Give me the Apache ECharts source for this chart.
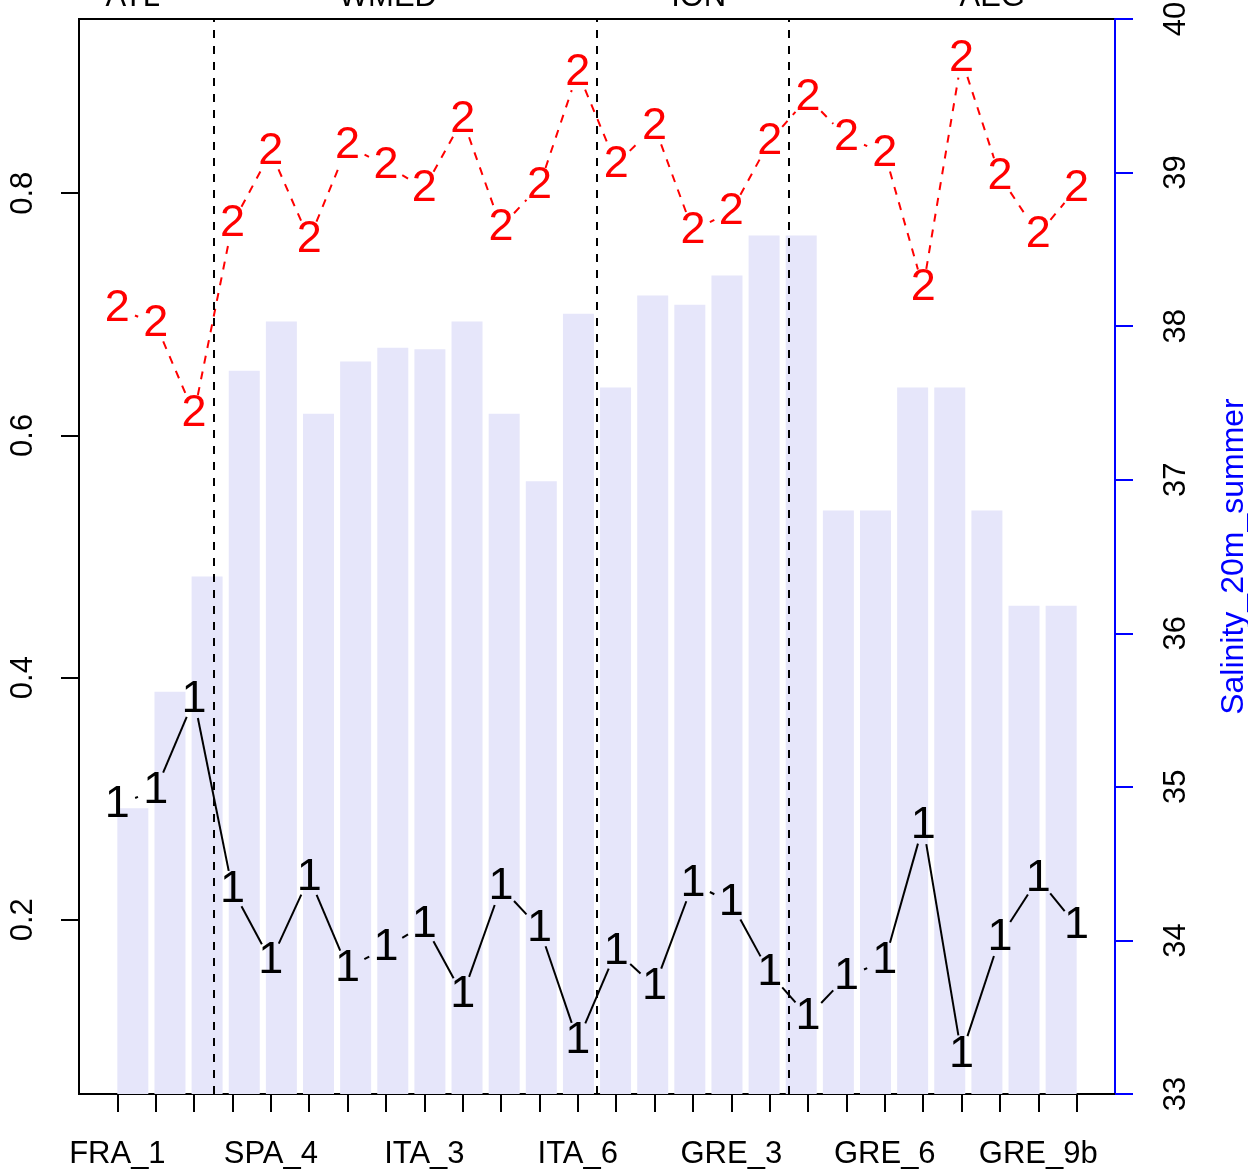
<!DOCTYPE html>
<html>
<head>
<meta charset="utf-8">
<script src="https://cdn.jsdelivr.net/npm/echarts@6/dist/echarts.min.js"></script>
<style>
  html, body { margin: 0; padding: 0; background: #fff; }
  #chart { width: 1248px; height: 1169px; }
</style>
</head>
<body>
<div id="chart"></div>
<script>
// x tick labels (only every 4th station has room for a label)
const tickLabels = ['FRA_1', 'SPA_4', 'ITA_3', 'ITA_6', 'GRE_3', 'GRE_6', 'GRE_9b']
const regions = ['ATL', 'WMED', 'ION', 'AEG']
const regionAt = [1.4, 8.05, 16.15, 23.8]
const regionBreaks = [3.5, 13.5, 18.5]

// group proportions per station (left axis)
const group1 = [0.295, 0.307, 0.382, 0.225, 0.166, 0.235, 0.160, 0.177, 0.196, 0.138,
  0.227, 0.193, 0.100, 0.174, 0.145, 0.230, 0.214, 0.156, 0.120, 0.153,
  0.166, 0.278, 0.089, 0.185, 0.234, 0.195]
const group2 = [0.705, 0.692, 0.618, 0.775, 0.834, 0.762, 0.839, 0.823, 0.804, 0.861,
  0.772, 0.806, 0.900, 0.824, 0.855, 0.769, 0.785, 0.843, 0.879, 0.846,
  0.833, 0.722, 0.911, 0.814, 0.766, 0.804]

// Salinity_20m_summer per station (right axis)
const salinity = [34.86, 35.62, 36.37, 37.71, 38.03, 37.43, 37.77, 37.86, 37.85, 38.03,
  37.43, 36.99, 38.08, 37.60, 38.20, 38.14, 38.33, 38.59, 38.59, 36.80,
  36.80, 37.60, 37.60, 36.80, 36.18, 36.18]

const FONT = '"Liberation Sans", Arial, Helvetica, sans-serif'
const GAP = 19

const n = group1.length
// R style axis ranges: data range stretched by 4% on each side
const all = group1.concat(group2)
const lo = Math.min(...all)
const hi = Math.max(...all)
const yMin = lo - 0.04 * (hi - lo)
const yMax = hi + 0.04 * (hi - lo)
const xMin = 1 - 0.04 * (n - 1)
const xMax = n + 0.04 * (n - 1)
// barplot positions: width 1, space 0.2
const barLeft = 0.2
const barRight = 1.2 * n
const bxMin = barLeft - 0.04 * (barRight - barLeft)
const bxMax = barRight + 0.04 * (barRight - barLeft)

const stationTicks = Array.from({ length: n }, (_, i) => i + 1)
const labelTicks = tickLabels.map((_, k) => 1 + 4 * k)

const segmentSeries = (values, color, dash) => ({
  type: 'custom',
  xAxisIndex: 0,
  yAxisIndex: 0,
  silent: true,
  z: 3,
  data: values.slice(0, -1).map((v, i) => [i + 1, v, i + 2, values[i + 1]]),
  encode: { x: [0, 2], y: [1, 3] },
  renderItem: (params, api) => {
    const a = api.coord([api.value(0), api.value(1)])
    const b = api.coord([api.value(2), api.value(3)])
    const dx = b[0] - a[0]
    const dy = b[1] - a[1]
    const len = Math.hypot(dx, dy)
    if (len <= 2 * GAP) return null
    const ux = dx / len
    const uy = dy / len
    return {
      type: 'line',
      shape: { x1: a[0] + ux * GAP, y1: a[1] + uy * GAP, x2: b[0] - ux * GAP, y2: b[1] - uy * GAP },
      style: { stroke: color, lineWidth: 2, lineDash: dash }
    }
  }
})

const glyphSeries = (values, ch, color) => ({
  type: 'custom',
  xAxisIndex: 0,
  yAxisIndex: 0,
  silent: true,
  z: 4,
  data: values.map((v, i) => [i + 1, v]),
  renderItem: (params, api) => {
    const p = api.coord([api.value(0), api.value(1)])
    return {
      type: 'text',
      x: p[0],
      y: p[1],
      style: { text: ch, fill: color, fontSize: 45, fontFamily: FONT, align: 'center', verticalAlign: 'middle' }
    }
  }
})

const chart = echarts.init(document.getElementById('chart'))

chart.setOption({
  animation: false,
  backgroundColor: '#fff',
  grid: {
    left: 79, right: 133, top: 19, bottom: 75,
    containLabel: false, outerBoundsMode: 'none',
    show: true, borderColor: '#000', borderWidth: 2, backgroundColor: 'transparent'
  },
  xAxis: [
    {
      type: 'value', min: xMin, max: xMax, position: 'bottom',
      axisLine: { show: true, onZero: false, lineStyle: { color: '#000', width: 2 } },
      axisTick: { show: true, length: 18, customValues: stationTicks, lineStyle: { color: '#000', width: 2 } },
      axisLabel: {
        customValues: labelTicks, margin: 45, fontSize: 31, fontFamily: FONT, color: '#000',
        formatter: (v) => tickLabels[Math.round((v - 1) / 4)]
      },
      splitLine: { show: false }
    },
    {
      type: 'value', min: bxMin, max: bxMax, show: false
    }
  ],
  yAxis: [
    {
      type: 'value', min: yMin, max: yMax, position: 'left',
      axisLine: { show: true, onZero: false, lineStyle: { color: '#000', width: 2 } },
      axisTick: { show: true, length: 18, customValues: [0.2, 0.4, 0.6, 0.8], lineStyle: { color: '#000', width: 2 } },
      axisLabel: {
        customValues: [0.2, 0.4, 0.6, 0.8], rotate: 90, margin: 40, fontSize: 31, fontFamily: FONT, color: '#000',
        formatter: (v) => v.toFixed(1)
      },
      splitLine: { show: false }
    },
    {
      type: 'value', min: 33, max: 40, interval: 1, position: 'right',
      name: 'Salinity_20m_summer', nameLocation: 'middle', nameGap: 103, nameRotate: 90,
      nameTextStyle: { color: '#0000FF', fontSize: 32, fontFamily: FONT },
      axisLine: { show: true, onZero: false, lineStyle: { color: '#0000FF', width: 2 } },
      axisTick: { show: true, length: 18, lineStyle: { color: '#0000FF', width: 2 } },
      axisLabel: { rotate: 90, margin: 46, fontSize: 31, fontFamily: FONT, color: '#000' },
      splitLine: { show: false }
    }
  ],
  series: [
    {
      type: 'bar',
      xAxisIndex: 1,
      yAxisIndex: 1,
      barWidth: 31,
      silent: true,
      z: 1,
      itemStyle: { color: '#E6E6FA' },
      data: salinity.map((v, i) => [barLeft + 0.5 + 1.2 * i, v])
    },
    {
      type: 'custom',
      xAxisIndex: 0,
      yAxisIndex: 0,
      silent: true,
      z: 2,
      data: regionAt.map((x, i) => [x, i]),
      renderItem: (params, api) => {
        const p = api.coord([api.value(0), yMax])
        return {
          type: 'text',
          x: p[0],
          y: p[1] - 22,
          style: { text: regions[api.value(1)], fill: '#000', fontSize: 31, fontFamily: FONT, align: 'center', verticalAlign: 'middle' }
        }
      },
      markLine: {
        silent: true,
        symbol: 'none',
        label: { show: false },
        lineStyle: { color: '#000', width: 2, type: [8, 8] },
        data: regionBreaks.map((x) => ({ xAxis: x }))
      }
    },
    segmentSeries(group1, '#000', null),
    segmentSeries(group2, '#FF0000', [8, 8]),
    glyphSeries(group1, '1', '#000'),
    glyphSeries(group2, '2', '#FF0000')
  ]
})
</script>
</body>
</html>
